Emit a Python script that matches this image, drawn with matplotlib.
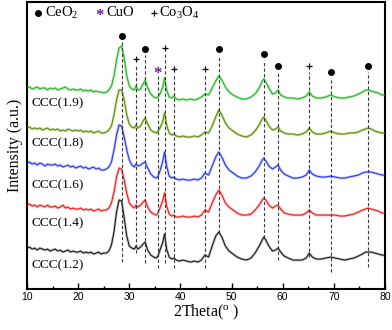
import matplotlib
matplotlib.use('Agg')
import matplotlib.pyplot as plt

plt.rcParams['mathtext.fontset'] = 'custom'
plt.rcParams['mathtext.rm'] = 'Liberation Serif'
plt.rcParams['mathtext.it'] = 'Liberation Serif:italic'

# 2theta grid (rows of 10)
two_theta = [10, 10.5, 11, 11.5, 12, 12.5, 13, 13.5, 14, 14.5,
             15, 15.5, 16, 16.5, 17, 17.5, 18, 18.5, 19, 19.5,
             20, 20.5, 21, 21.5, 22, 22.5, 23, 23.5, 24, 24.5,
             25, 25.5, 26, 26.5, 27, 27.5, 28, 28.5, 29, 29.5,
             30, 30.5, 31, 31.3, 31.7, 32.2, 32.7, 33.1, 33.6, 34.2,
             34.8, 35.3, 35.6, 36.0, 36.5, 36.9, 37.3, 37.8, 38.3, 38.7,
             39.2, 39.8, 40.5, 41.2, 42, 42.7, 43.4, 44.1, 44.8, 45.5,
             46.2, 46.9, 47.5, 48.1, 48.8, 49.5, 50.3, 51.1, 52, 52.9,
             53.8, 54.6, 55.4, 56.0, 56.3, 56.7, 57.3, 58.0, 58.6, 59.1,
             59.6, 60.3, 61.1, 62, 62.9, 63.8, 64.6, 65.2, 65.8, 66.6,
             67.5, 68.4, 69.4, 70.3, 71.2, 72.1, 73, 73.9, 74.8, 75.6,
             76.2, 76.7, 77.3, 78, 78.7, 79.4, 80]

ccc_19 = [202, 203, 201, 202, 203, 201, 202, 202, 200, 202,
          201, 202, 200, 201, 202, 203, 201, 200, 201, 200,
          200, 201, 199, 200, 199, 200, 198, 199, 198, 198,
          197, 198, 200, 204, 214, 230, 242, 244, 232, 214,
          204, 201, 200, 204, 200, 201, 206, 210, 202, 196,
          193, 192, 193, 196, 202, 212, 200, 193, 192, 194,
          191, 190, 191, 190, 191, 190, 191, 193, 196, 195,
          202, 209, 214, 210, 203, 198, 195, 193, 191, 191,
          193, 196, 202, 209, 211, 208, 202, 196, 197, 200,
          195, 193, 192, 192, 191, 192, 194, 198, 194, 192,
          192, 193, 195, 193, 192, 192, 193, 194, 196, 198,
          200, 200, 199, 198, 197, 195, 195]

ccc_18 = [162, 163, 161, 162, 161, 162, 160, 161, 162, 160,
          161, 160, 161, 159, 160, 159, 161, 160, 159, 160,
          159, 160, 158, 159, 158, 159, 157, 158, 159, 157,
          157, 158, 160, 164, 175, 190, 200, 200, 190, 175,
          166, 163, 162, 165, 162, 164, 169, 172, 166, 160,
          158, 157, 159, 162, 168, 177, 165, 157, 155, 156,
          154, 153, 154, 153, 153, 154, 153, 155, 158, 157,
          164, 173, 180, 175, 167, 162, 159, 156, 154, 153,
          155, 159, 165, 171, 173, 170, 164, 160, 161, 163,
          159, 157, 156, 156, 155, 156, 158, 162, 158, 156,
          156, 157, 159, 157, 156, 156, 157, 157, 158, 160,
          161, 162, 161, 159, 158, 157, 157]

ccc_16 = [127, 128, 126, 127, 125, 127, 126, 124, 126, 125,
          125, 126, 124, 125, 123, 124, 125, 123, 124, 122,
          123, 124, 122, 123, 121, 122, 123, 121, 122, 120,
          120, 121, 123, 128, 140, 155, 165, 164, 153, 140,
          130, 125, 123, 126, 124, 125, 127, 128, 122, 116,
          113, 112, 114, 119, 128, 138, 124, 114, 112, 113,
          111, 110, 111, 110, 110, 111, 110, 112, 117, 115,
          124, 133, 138, 133, 125, 120, 117, 114, 112, 112,
          114, 118, 124, 130, 132, 129, 124, 121, 123, 125,
          120, 116, 114, 112, 112, 113, 115, 120, 116, 114,
          113, 113, 114, 113, 112, 112, 113, 114, 115, 117,
          118, 118, 118, 117, 116, 115, 115]

ccc_14 = [85, 86, 84, 85, 83, 85, 84, 83, 85, 83,
          83, 84, 82, 83, 85, 82, 83, 81, 82, 81,
          81, 82, 80, 81, 80, 81, 79, 80, 81, 79,
          80, 80, 82, 87, 98, 113, 122, 121, 110, 97,
          87, 84, 82, 85, 83, 85, 88, 90, 83, 78,
          76, 75, 77, 82, 89, 97, 84, 76, 74, 75,
          73, 73, 74, 73, 73, 74, 73, 75, 80, 78,
          87, 95, 100, 95, 87, 83, 80, 77, 75, 75,
          76, 80, 85, 90, 92, 90, 85, 82, 84, 85,
          81, 77, 76, 75, 75, 75, 77, 80, 77, 75,
          75, 75, 75, 75, 74, 74, 75, 76, 78, 80,
          81, 82, 81, 80, 79, 77, 77]

ccc_12 = [42, 43, 41, 42, 40, 42, 41, 40, 41, 39,
          40, 41, 39, 40, 38, 39, 40, 38, 39, 38,
          38, 39, 37, 38, 37, 38, 36, 37, 38, 36,
          37, 37, 39, 45, 58, 78, 90, 89, 72, 54,
          44, 42, 41, 44, 41, 43, 46, 48, 40, 35,
          33, 32, 34, 40, 47, 56, 41, 33, 31, 32,
          30, 29, 30, 29, 28, 29, 28, 30, 35, 33,
          44, 54, 58, 53, 44, 39, 36, 33, 31, 30,
          32, 37, 44, 50, 53, 50, 44, 39, 40, 42,
          38, 34, 32, 30, 30, 30, 32, 37, 33, 31,
          31, 32, 33, 32, 31, 30, 31, 32, 34, 36,
          38, 38, 38, 37, 36, 35, 35]

series = [ccc_19, ccc_18, ccc_16, ccc_14, ccc_12]
labels = ['CCC(1.9)', 'CCC(1.8)', 'CCC(1.6)', 'CCC(1.4)', 'CCC(1.2)']
label_y = [187, 147, 105, 67, 25]
colors = ['#22b522', '#5b8a16', '#2233ee', '#ee1515', '#111111']
halos = ['#a8e6a8', '#c6d88f', '#b4b8ff', '#ffb0b0', '#b8b8b8']

# reflections: position, marker height, line bottom
ceo2_pos = [28.5, 33.1, 47.5, 56.3, 59.1, 69.4, 76.7]
ceo2_top = [254, 241, 241, 236, 224, 218, 224]
ceo2_bot = [28, 27, 57, 52, 30, 18, 23]
co3o4_pos = [31.3, 36.9, 38.7, 44.8, 65.2]
co3o4_top = [231, 242, 221, 221, 224]
co3o4_bot = [37, 27, 22, 22, 33]
cuo_pos = [35.6]
cuo_top = [220]
cuo_bot = [22]

fig = plt.figure(figsize=(3.92, 3.30), dpi=100)
ax = fig.add_axes([0.069, 0.124, 0.913, 0.870])

for y, c, h in zip(series, colors, halos):
    ax.plot(two_theta, y, color=h, lw=1.8, zorder=2)
    ax.plot(two_theta, y, color=c, lw=0.7, zorder=3)

for lab, ly in zip(labels, label_y):
    ax.text(10.9, ly, lab, fontsize=9.5, family='Liberation Serif',
            va='center', ha='left', zorder=5)

dash_kw = dict(color='#3a3a3a', lw=0.8, ls=(0, (3, 2)), zorder=4)
for pos, top, bot in zip(ceo2_pos + co3o4_pos + cuo_pos,
                         ceo2_top + co3o4_top + cuo_top,
                         ceo2_bot + co3o4_bot + cuo_bot):
    ax.plot([pos, pos], [bot, top - 6], **dash_kw)

ax.plot(ceo2_pos, ceo2_top, 'o', color='black', ms=4, zorder=5)
ax.plot(co3o4_pos, co3o4_top, '+', color='black', ms=5, mew=0.9, zorder=5)
for pos, top in zip(cuo_pos, cuo_top):
    ax.text(pos, top - 4, '*', color='#6a1b9a', fontsize=12, ha='center',
            va='center', family='Liberation Serif', fontweight='bold', zorder=5)

# legend row
ax.plot([12.15], [277], 'o', color='black', ms=4)
ax.text(13.6, 277, r'CeO$_2$', fontsize=10.5, family='Liberation Serif', va='center')
ax.text(24.2, 274, '*', color='#6a1b9a', fontsize=12, ha='center', va='center',
        family='Liberation Serif', fontweight='bold')
ax.text(25.5, 277, 'CuO', fontsize=10.5, family='Liberation Serif', va='center')
ax.plot([34.8], [277], '+', color='black', ms=5, mew=0.9)
ax.text(35.9, 277, r'Co$_3$O$_4$', fontsize=10.5, family='Liberation Serif', va='center')

ax.set_xlim(10, 80)
ax.set_ylim(1, 288)
ax.set_xticks(range(10, 81, 10))
ax.set_xticks(range(15, 80, 10), minor=True)
ax.set_yticks([])
ax.tick_params(axis='x', which='major', direction='in', length=4, width=1, pad=2,
               labelsize=7.5)
ax.tick_params(axis='x', which='minor', direction='in', length=2.5, width=1)
for lbl in ax.get_xticklabels():
    lbl.set_family('Liberation Sans')
for sp in ax.spines.values():
    sp.set_linewidth(1.5)

ax.set_xlabel(r'2Theta($^{\rm o}$ )', fontsize=11.5, family='Liberation Serif', labelpad=1)
ax.set_ylabel('Intensity (a.u.)', fontsize=11.5, family='Liberation Serif', labelpad=3)

fig.savefig('out.png', dpi=100)
